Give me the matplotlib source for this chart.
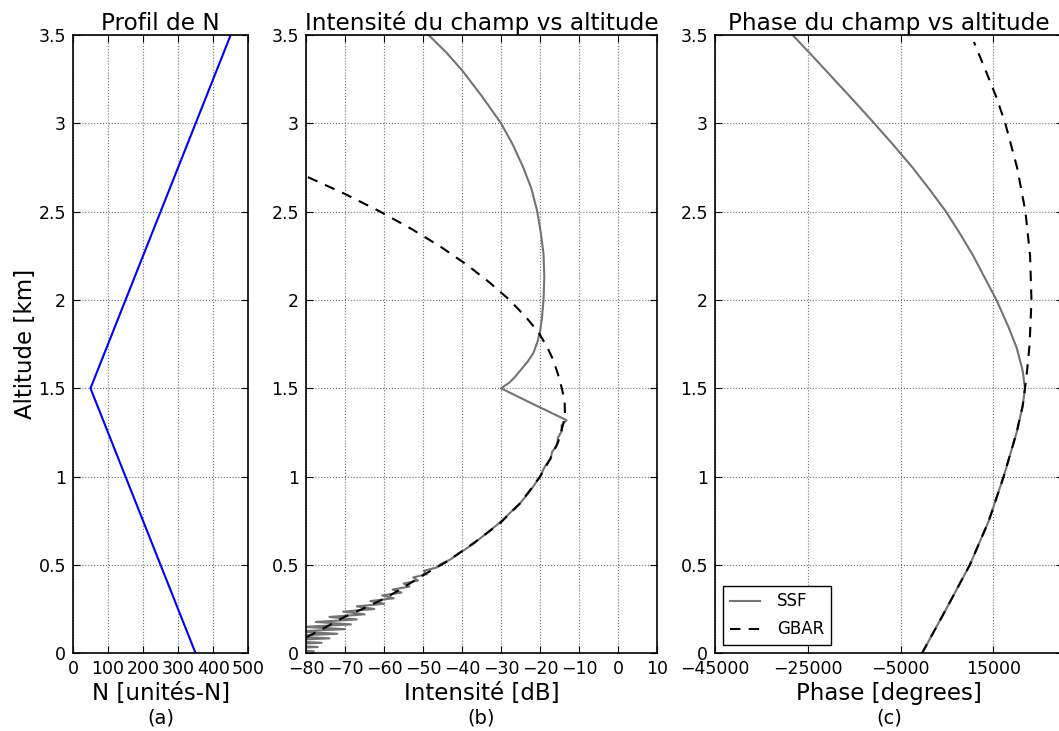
import numpy as np
import matplotlib.pyplot as plt

# altitude axis (km)
alt_ticks = [0, 0.5, 1, 1.5, 2, 2.5, 3, 3.5]
alt_labels = ['0', '0.5', '1', '1.5', '2', '2.5', '3', '3.5']

# (a) refractivity profile
n_alt = [0.0, 1.5, 3.5]
n_val = [350, 50, 450]
n_ticks = [0, 100, 200, 300, 400, 500]

# (b) field intensity [dB]
ssf_db_alt = [0.000, 0.012, 0.024, 0.036, 0.048, 0.060, 0.072, 0.085, 0.098, 0.111,
              0.124, 0.137, 0.150, 0.164, 0.178, 0.192, 0.206, 0.221, 0.236, 0.251,
              0.266, 0.281, 0.296, 0.312, 0.328, 0.344, 0.361, 0.378, 0.395, 0.412,
              0.430, 0.448, 0.467, 0.486, 0.505, 0.530, 0.620, 0.740, 0.850, 0.920,
              1.000, 1.060, 1.100, 1.140, 1.180, 1.220, 1.260, 1.290, 1.320, 1.410,
              1.500, 1.530, 1.560, 1.600, 1.650, 1.700, 1.760, 1.820, 1.900, 2.000,
              2.130, 2.260, 2.380, 2.500, 2.630, 2.750, 2.880, 3.000, 3.150, 3.300,
              3.400, 3.500]
ssf_db = [-90, -78, -90, -77, -89, -76, -87, -74, -85, -72,
          -83, -70, -80.5, -68.5, -77.5, -67, -74, -65, -70.5, -62.5,
          -67, -60, -63.5, -57.5, -60.5, -55.5, -57.8, -53.5, -55, -51.3,
          -52.5, -49, -49.8, -46.5, -45.5, -43.1, -37.1, -30.3, -25.1, -22.5,
          -20.0, -18.7, -17.3, -16.9, -15.6, -15.4, -14.4, -14.5, -13.2, -21.7,
          -30.0, -28.0, -26.6, -25.1, -23.2, -21.7, -20.7, -20.0, -19.5, -19.1,
          -18.9, -19.1, -19.8, -20.7, -22.2, -24.3, -27.0, -30.0, -34.8, -40.0,
          -44.0, -48.6]
gbar_db_alt = [0.090, 0.150, 0.208, 0.260, 0.312, 0.380, 0.444, 0.519, 0.623, 0.736,
               0.849, 1.000, 1.100, 1.200, 1.302, 1.359, 1.430, 1.500, 1.580, 1.660,
               1.740, 1.820, 1.900, 2.000, 2.100, 2.200, 2.300, 2.400, 2.500, 2.600,
               2.700]
gbar_db = [-80, -74.8, -70, -64.7, -59.7, -54.5, -49.9, -43.9, -37.1, -30.3,
           -25.1, -20.0, -17.4, -15.3, -14.0, -13.6, -13.7, -14.4, -15.4, -16.6,
           -18.3, -20.5, -23.5, -27.8, -33.0, -38.8, -45.4, -52.8, -61.0, -70.0,
           -80.0]
db_ticks = [-80, -70, -60, -50, -40, -30, -20, -10, 0, 10]

# (c) field phase [degrees]
ssf_ph_alt = [0.0, 0.25, 0.5, 0.75, 1.0, 1.25, 1.4, 1.5, 1.6, 1.73,
              1.85, 2.0, 2.125, 2.25, 2.375, 2.5, 2.625, 2.75, 2.875, 3.0,
              3.125, 3.25, 3.375, 3.5]
ssf_ph = [-400, 4800, 9900, 14000, 17200, 20000, 21300, 21800, 21300, 20000,
          18200, 15650, 13150, 10650, 7800, 4775, 1250, -2450, -6500, -10700,
          -15000, -19400, -23800, -28300]
gbar_ph_alt = [0.0, 0.25, 0.5, 0.75, 1.0, 1.25, 1.4, 1.5, 1.6, 1.75,
               2.0, 2.25, 2.5, 2.75, 3.0, 3.15, 3.3, 3.46]
gbar_ph = [-400, 4800, 9900, 14000, 17200, 20000, 21300, 21800, 22250, 22800,
           23200, 22900, 21900, 20100, 17550, 15600, 13300, 10800]
ph_ticks = [-45000, -25000, -5000, 15000]

fig = plt.figure(figsize=(10.59, 7.31), dpi=100, facecolor='white')
bot, h = 0.1062, 0.846
ax1 = fig.add_axes([0.0689, bot, 0.1655, h])
ax2 = fig.add_axes([0.2890, bot, 0.3314, h])
ax3 = fig.add_axes([0.6752, bot, 0.3286, h])

ax1.plot(n_val, n_alt, color='blue', lw=1.5)
ax2.plot(ssf_db, ssf_db_alt, color='0.45', lw=1.5, label='SSF')
ax2.plot(gbar_db, gbar_db_alt, color='k', lw=1.5, ls='--', dashes=(5, 4), label='GBAR')
ax3.plot(ssf_ph, ssf_ph_alt, color='0.45', lw=1.5, label='SSF')
ax3.plot(gbar_ph, gbar_ph_alt, color='k', lw=1.5, ls='--', dashes=(5, 4), label='GBAR')

ax1.set_xlim(0, 500)
ax2.set_xlim(-80, 10)
ax3.set_xlim(-45000, 30000)
ax1.set_xticks(n_ticks)
ax2.set_xticks(db_ticks)
ax3.set_xticks(ph_ticks)

titles = ['Profil de N', 'Intensité du champ vs altitude', 'Phase du champ vs altitude']
xlabels = ['N [unités-N]', 'Intensité [dB]', 'Phase [degrees]']
tags = ['(a)', '(b)', '(c)']
for ax, t, xl, tag in zip([ax1, ax2, ax3], titles, xlabels, tags):
    ax.set_ylim(0, 3.5)
    ax.set_yticks(alt_ticks)
    ax.set_yticklabels(alt_labels)
    ax.set_title(t, fontsize=16.7, pad=3.5)
    ax.set_xlabel(xl, fontsize=16.5, labelpad=3)
    ax.text(0.5, -0.104, tag, transform=ax.transAxes, ha='center', va='center', fontsize=14)
    ax.grid(True, color='0.45', ls=':', lw=0.8)
    ax.tick_params(direction='in', top=True, right=True, labelsize=12.5, length=5, pad=5)
    for s in ax.spines.values():
        s.set_linewidth(1.2)

ax1.set_ylabel('Altitude [km]', fontsize=16.5, labelpad=1)

leg = ax3.legend(loc='lower left', fontsize=12, handlelength=1.8, handletextpad=1.0,
                 labelspacing=0.6, fancybox=False, framealpha=1)
leg.get_frame().set_edgecolor('k')

fig.savefig('out.png', dpi=100, facecolor='white')
